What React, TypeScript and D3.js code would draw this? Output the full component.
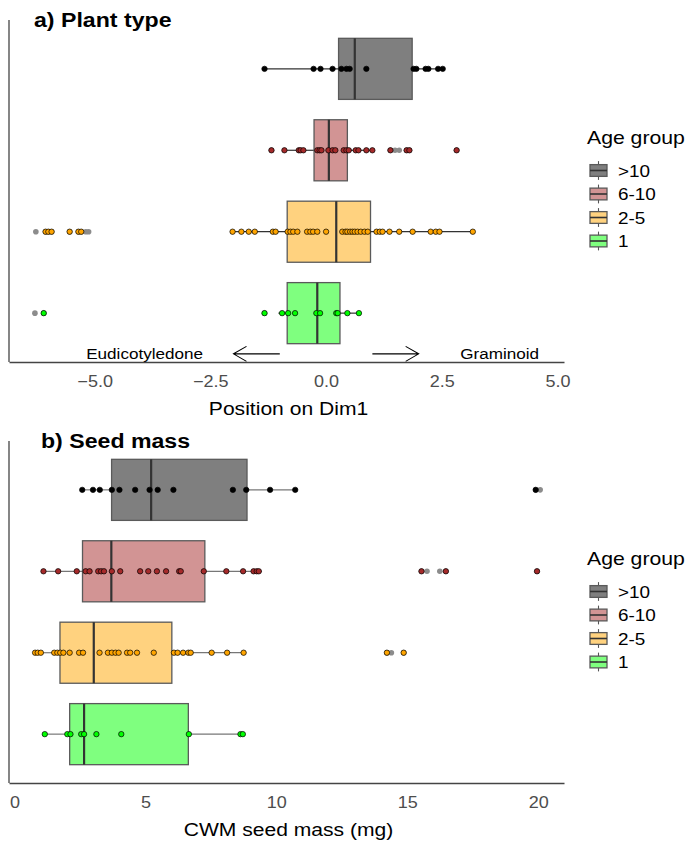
import React, { useRef, useEffect } from 'react';
import * as d3 from 'd3';

// Age groups, top to bottom
const GROUPS = ['>10', '6-10', '2-5', '1'];
const POINT_COLORS = ['#000000', '#a52a2a', '#ffa500', '#00ff00'];

// a) Plant type: box stats [low whisker, q1, median, q3, high whisker]
const PLANT_STATS = [
  [-1.33, 0.27, 0.62, 1.86, 2.56],
  [-0.89, -0.26, 0.06, 0.46, 1.04],
  [-2.02, -0.84, 0.22, 0.96, 3.17],
  [-1.03, -0.84, -0.19, 0.3, 0.71],
];
const PLANT_POINTS = [
  [-1.33, -0.27, -0.12, 0.14, 0.33, 0.44, 0.51, 0.87, 1.89, 1.95, 2.15, 2.21, 2.42, 2.52],
  [-1.18, -0.9, -0.59, -0.55, -0.49, -0.19, -0.14, -0.1, 0.05, 0.14, 0.2, 0.38, 0.44, 0.49, 0.64, 0.7, 0.87, 1.0, 1.39, 1.74, 1.8, 2.82],
  [-6.06, -6.0, -5.93, -5.54, -5.35, -5.29, -2.02, -1.83, -1.67, -1.54, -1.15, -1.09, -0.83, -0.77, -0.71, -0.62, -0.41, -0.34, -0.28, -0.19, 0.0, 0.35, 0.42, 0.46, 0.52, 0.57, 0.62, 0.68, 0.75, 0.83, 0.9, 1.09, 1.16, 1.22, 1.37, 1.58, 1.87, 2.26, 2.37, 2.45, 3.17],
  [-6.1, -1.33, -0.95, -0.82, -0.67, -0.21, -0.13, 0.22, 0.25, 0.46, 0.71],
];
const PLANT_OUTLIERS = [
  [],
  [-1.18, 1.39, 1.49, 1.58, 1.74, 1.8, 2.82],
  [-6.27, -6.06, -6.0, -5.93, -5.54, -5.35, -5.29, -5.19, -5.13],
  [-6.29, -6.1, -1.33],
];
const PLANT_TICKS = [-5, -2.5, 0, 2.5, 5];
const PLANT_NOTES = [
  { label: 'Eudicotyledone', x: -3.92, from: -1, to: -2 },
  { label: 'Graminoid', x: 3.75, from: 1, to: 2 },
];

// b) Seed mass (mg)
const SEED_STATS = [
  [2.59, 3.71, 5.22, 8.88, 10.72],
  [1.11, 2.6, 3.7, 7.27, 9.45],
  [0.79, 1.74, 3.03, 6.01, 8.85],
  [1.16, 2.11, 2.66, 6.64, 8.75],
];
const SEED_POINTS = [
  [2.59, 3.0, 3.26, 3.72, 4.01, 4.61, 5.16, 5.47, 6.07, 8.34, 8.85, 9.76, 10.72, 19.9],
  [1.11, 1.67, 2.38, 2.72, 2.87, 3.2, 3.31, 3.42, 3.72, 4.04, 4.8, 5.11, 5.44, 5.79, 6.29, 6.35, 7.23, 8.09, 8.73, 9.13, 9.25, 9.33, 15.54, 16.47, 19.95],
  [0.79, 0.89, 1.01, 1.52, 1.64, 1.75, 1.87, 2.11, 2.47, 2.62, 3.25, 3.57, 3.72, 3.86, 3.98, 4.3, 4.42, 4.68, 5.32, 6.09, 6.23, 6.44, 6.64, 6.73, 7.53, 8.12, 8.75, 14.22, 14.86],
  [1.16, 2.02, 2.14, 2.55, 2.66, 3.13, 4.08, 6.66, 8.63, 8.72],
];
const SEED_OUTLIERS = [
  [19.9, 20.07],
  [15.54, 15.75, 16.24, 16.47, 19.95],
  [14.22, 14.39, 14.86],
  [],
];
const SEED_TICKS = [0, 5, 10, 15, 20];

const FONT = '"Liberation Sans", Arial, sans-serif';
const SX = 1.14; // the reference is slightly stretched horizontally

interface PanelCfg {
  top: number;
  title: string;
  titleX: number;
  axisTitle: string;
  domain: [number, number];
  ticks: number[];
  fmt: (d: number) => string;
  stats: number[][];
  points: number[][];
  outliers: number[][];
  whisker: string;
  notes?: { label: string; x: number; from: number; to: number }[];
}

const panels: PanelCfg[] = [
  {
    top: 20, title: 'a) Plant type', titleX: 34, axisTitle: 'Position on Dim1',
    domain: [-6.85, 5.14], ticks: PLANT_TICKS, fmt: d3.format('.1f'),
    stats: PLANT_STATS, points: PLANT_POINTS, outliers: PLANT_OUTLIERS, whisker: '#333', notes: PLANT_NOTES,
  },
  {
    top: 441, title: 'b) Seed mass', titleX: 41, axisTitle: 'CWM seed mass (mg)',
    domain: [-0.206, 20.98], ticks: SEED_TICKS, fmt: d3.format('d'),
    stats: SEED_STATS, points: SEED_POINTS, outliers: SEED_OUTLIERS, whisker: '#777',
  },
];

const App = () => {
  const svgRef = useRef<SVGSVGElement | null>(null);

  useEffect(() => {
    const svg = d3.select(svgRef.current);
    svg.selectAll('*').remove();
    const left = 9, right = 564, plotH = 342;

    const stext = (g: any, x: number, y: number, s: string, size: number, anchor = 'start', weight = 'normal', fill = '#000') =>
      g.append('text')
        .attr('transform', `translate(${x},${y}) scale(${SX},1)`)
        .attr('text-anchor', anchor).attr('font-size', size).attr('font-weight', weight)
        .attr('font-family', FONT).attr('fill', fill).text(s);

    panels.forEach((p) => {
      const g = svg.append('g');
      const bottom = p.top + plotH;
      const x = d3.scaleLinear().domain(p.domain).range([left, right]);
      // ggplot-style discrete y: groups at 4..1, expanded by 0.6
      const yl = d3.scaleLinear().domain([0.4, 4.6]).range([bottom, p.top]);
      const yOf = (i: number) => yl(GROUPS.length - i);
      const bh = (yl(0) - yl(0.75));

      // boxes
      p.stats.forEach((s, i) => {
        const cy = yOf(i);
        const [lo, q1, med, q3, hi] = s;
        g.append('line').attr('x1', x(lo)).attr('x2', x(q1)).attr('y1', cy).attr('y2', cy)
          .attr('stroke', p.whisker).attr('stroke-width', 1.2);
        g.append('line').attr('x1', x(q3)).attr('x2', x(hi)).attr('y1', cy).attr('y2', cy)
          .attr('stroke', p.whisker).attr('stroke-width', 1.2);
        g.append('rect').attr('x', x(q1)).attr('y', cy - bh / 2).attr('width', x(q3) - x(q1)).attr('height', bh)
          .attr('fill', POINT_COLORS[i]).attr('fill-opacity', 0.5);
        g.append('rect').attr('x', x(q1)).attr('y', cy - bh / 2).attr('width', x(q3) - x(q1)).attr('height', bh)
          .attr('fill', 'none').attr('stroke', '#5a5a5a').attr('stroke-width', 1.3);
        g.append('line').attr('x1', x(med)).attr('x2', x(med)).attr('y1', cy - bh / 2).attr('y2', cy + bh / 2)
          .attr('stroke', '#333').attr('stroke-width', 2.2);
        g.selectAll(null).data(p.outliers[i]).join('circle')
          .attr('cx', (d) => x(d)).attr('cy', cy).attr('r', 2.8).attr('fill', '#8c8c8c');
      });

      // points
      p.points.forEach((pts, i) => {
        g.selectAll(null).data(pts).join('circle')
          .attr('cx', (d) => x(d)).attr('cy', yOf(i)).attr('r', 2.7)
          .attr('fill', POINT_COLORS[i]).attr('stroke', '#000').attr('stroke-width', 0.7);
      });

      // annotations with arrows
      (p.notes || []).forEach((n) => {
        const yy = yl(0.5);
        stext(g, x(n.x), yy + 5, n.label, 15, 'middle');
        const x0 = x(n.from), x1 = x(n.to);
        const dir = Math.sign(x1 - x0);
        const len = 13, spread = 7.5;
        g.append('path')
          .attr('d', `M${x0},${yy}L${x1},${yy}M${x1 - dir * len},${yy - spread}L${x1},${yy}L${x1 - dir * len},${yy + spread}`)
          .attr('fill', 'none').attr('stroke', '#000').attr('stroke-width', 1.1);
      });

      // axes
      g.append('line').attr('x1', left).attr('x2', left).attr('y1', p.top).attr('y2', bottom)
        .attr('stroke', '#444').attr('stroke-width', 1.3);
      const ax = g.append('g').attr('transform', `translate(0,${bottom})`)
        .call(d3.axisBottom(x).tickValues(p.ticks).tickFormat(p.fmt as any).tickSize(0).tickSizeOuter(0).tickPadding(13.5));
      ax.select('.domain').attr('stroke', '#444').attr('stroke-width', 1.3);
      ax.selectAll('text').attr('font-size', 15.8).attr('font-family', FONT).attr('fill', '#4d4d4d')
        .attr('transform', `scale(${SX},1)`);
      stext(g, (left + right) / 2 + 2, bottom + 52.5, p.axisTitle, 18.5, 'middle');

      // title
      stext(g, p.titleX, p.top + 6.5, p.title, 20.3, 'start', 'bold');

      // legend
      const lg = g.append('g');
      stext(lg, 587, p.top + 124, 'Age group', 18.6);
      GROUPS.forEach((grp, i) => {
        const cy = p.top + 150.5 + i * 23.5;
        const kh = 23.5, kx = 598.5, kw = 17;
        lg.append('line').attr('x1', kx).attr('x2', kx).attr('y1', cy - kh * 0.4).attr('y2', cy + kh * 0.4)
          .attr('stroke', '#555').attr('stroke-width', 1.1);
        lg.append('rect').attr('x', kx - kw / 2).attr('y', cy - kh / 4).attr('width', kw).attr('height', kh / 2)
          .attr('fill', '#fff');
        lg.append('rect').attr('x', kx - kw / 2).attr('y', cy - kh / 4).attr('width', kw).attr('height', kh / 2)
          .attr('fill', POINT_COLORS[i]).attr('fill-opacity', 0.5).attr('stroke', '#5a5a5a').attr('stroke-width', 1.3);
        lg.append('line').attr('x1', kx - kw / 2).attr('x2', kx + kw / 2).attr('y1', cy).attr('y2', cy)
          .attr('stroke', '#333').attr('stroke-width', 1.6);
        stext(lg, 618, cy + 6, grp, 16.6);
      });
    });
  }, []);

  return (
    <svg ref={svgRef} width={693} height={848}
      style={{ position: 'absolute', left: 0, top: 0, background: '#fff' }} />
  );
};

export default App;
